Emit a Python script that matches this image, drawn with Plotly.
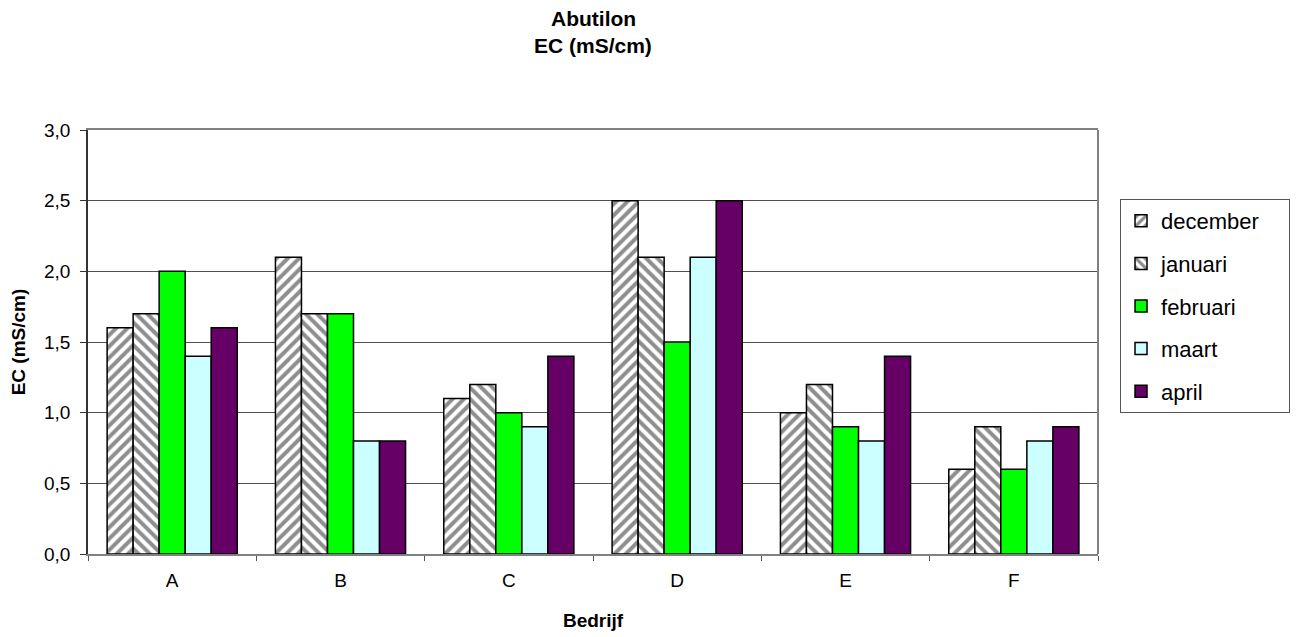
import plotly.graph_objects as go

categories = ["A", "B", "C", "D", "E", "F"]
december = [1.6, 2.1, 1.1, 2.5, 1.0, 0.6]
januari = [1.7, 1.7, 1.2, 2.1, 1.2, 0.9]
februari = [2.0, 1.7, 1.0, 1.5, 0.9, 0.6]
maart = [1.4, 0.8, 0.9, 2.1, 0.8, 0.8]
april = [1.6, 0.8, 1.4, 2.5, 1.4, 0.9]

stripe = dict(fgcolor="#1e1e1e", bgcolor="white", size=8, solidity=0.5)
series = [
    ("december", december, dict(color="white", pattern=dict(shape="/", **stripe))),
    ("januari", januari, dict(color="white", pattern=dict(shape="\\", **stripe))),
    ("februari", februari, dict(color="#00FF00")),
    ("maart", maart, dict(color="#CCFFFF")),
    ("april", april, dict(color="#660066")),
]

fig = go.Figure()
for name, vals, m in series:
    m = dict(m)
    m["line"] = dict(color="black", width=1.5)
    fig.add_trace(go.Bar(name=name + "\u00a0\u00a0\u00a0\u00a0", x=categories, y=vals,
                         marker=m, legendgroup=name))

font = "Arial, Liberation Sans, sans-serif"
# page body has an 8px margin, so the figure is 8px smaller than the window
W, H = 1293, 629
L, T, PW, PH = 80, 122, 1010, 424
fig.update_layout(
    width=W, height=H,
    margin=dict(l=L, r=W - L - PW, t=T, b=H - T - PH, autoexpand=False),
    paper_bgcolor="white", plot_bgcolor="white",
    barmode="group", bargap=0.227, bargroupgap=0,
    font=dict(family=font, size=19, color="black"),
    separators=",.",
    showlegend=True,
    legend=dict(
        x=1.0218, xanchor="left", y=(424 - 69) / 424, yanchor="top",
        font=dict(size=22, family=font),
        bordercolor="#555555", borderwidth=1, bgcolor="white",
        traceorder="grouped", tracegroupgap=11,
    ),
    xaxis=dict(
        automargin=False,
        showline=True, linecolor="#808080", linewidth=1.5, mirror=True,
        ticks="outside", tickson="boundaries", ticklen=5, tickcolor="#555555",
        tickfont=dict(size=19), ticklabelstandoff=8,
        title=dict(text="<b>Bedrijf</b>", font=dict(size=19), standoff=24),
    ),
    yaxis=dict(
        automargin=False,
        range=[0, 3], dtick=0.5, tickformat=".1f",
        showline=True, linecolor="#333333", linewidth=1.5,
        ticks="outside", ticklen=6, tickcolor="#333333",
        showgrid=True, gridcolor="#505050", gridwidth=1,
        zeroline=False, tickfont=dict(size=19), ticklabelstandoff=6,
        title=dict(text="<b>EC (mS/cm)</b>", font=dict(size=19), standoff=16),
    ),
    annotations=[
        dict(text="<b>Abutilon</b>", xref="paper", yref="paper", x=0.5, y=(554 - 18) / 424,
             yanchor="middle", showarrow=False, font=dict(size=21)),
        dict(text="<b>EC (mS/cm)</b>", xref="paper", yref="paper", x=0.5, y=(554 - 46) / 424,
             yanchor="middle", showarrow=False, font=dict(size=21)),
    ],
    shapes=[
        dict(type="line", xref="paper", yref="paper", x0=1, x1=1, y0=0, y1=1,
             line=dict(color="#808080", width=2)),
    ],
)

fig.write_html("out.html")
